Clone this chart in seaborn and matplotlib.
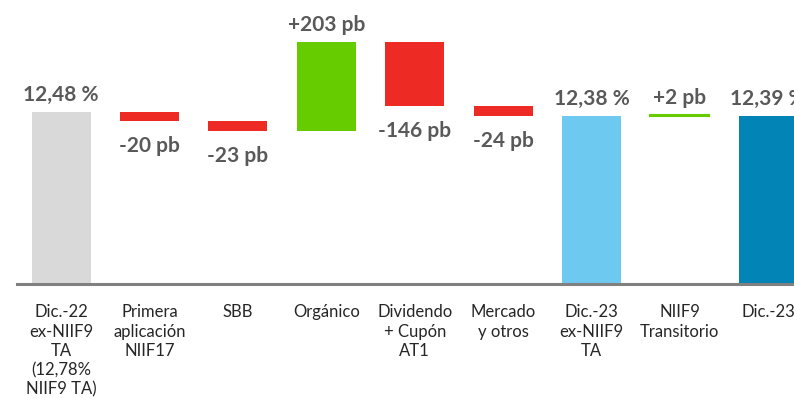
import matplotlib
matplotlib.use("Agg")
import matplotlib.pyplot as plt
import numpy as np
import pandas as pd
import seaborn as sns

# Capital ratio bridge: Dic.-22 -> Dic.-23 (values in %, deltas in pb)
categories = [
    "Dic.-22\nex-NIIF9\nTA\n(12,78%\nNIIF9 TA)",
    "Primera\naplicación\nNIIF17",
    "SBB",
    "Orgánico",
    "Dividendo\n+ Cupón\nAT1",
    "Mercado\ny otros",
    "Dic.-23\nex-NIIF9\nTA",
    "NIIF9\nTransitorio",
    "Dic.-23",
]
kinds = ["total", "delta", "delta", "delta", "delta", "delta", "total", "delta", "total"]
values = [12.48, -20, -23, 203, -146, -24, 12.38, 2, 12.39]  # totals in %, deltas in pb
bar_colors = ["#D9D9D9", "#EE2A24", "#EE2A24", "#66CC00", "#EE2A24",
              "#EE2A24", "#6EC9F1", "#66CC00", "#0284B6"]

# Running level for each floating bar
heights, bottoms = [], []
level = 0.0
for kind, v in zip(kinds, values):
    if kind == "total":
        heights.append(v)
        bottoms.append(0.0)
        level = v
    else:
        d = v / 100.0
        heights.append(d)
        bottoms.append(level)
        level += d

df = pd.DataFrame({"cat": categories, "height": heights})

sns.set_theme(style="white")
plt.rcParams["font.family"] = ["Lato", "DejaVu Sans"]

fig = plt.figure(figsize=(7.94, 3.98), dpi=100)
ax = fig.add_axes([17 / 794, 0.2857, 1 - 17 / 794, 1 - 0.2857])

sns.barplot(data=df, x="cat", y="height", order=categories, width=0.667,
            bottom=np.array(bottoms), errorbar=None, ax=ax, color=bar_colors[0],
            saturation=1, linewidth=0, edgecolor="none")

for patch, col, kind, v in zip(ax.patches, bar_colors, kinds, values):
    patch.set_facecolor(col)
    if kind == "delta" and abs(v) < 5:
        # very small change drawn as a thin stroke
        patch.set_edgecolor(col)
        patch.set_linewidth(1.5)

ax.set_xlim(-0.5, 8.292)
ax.set_ylim(8.535, 15.04)

label_color = "#595959"
for i, (kind, v, h, b) in enumerate(zip(kinds, values, heights, bottoms)):
    if kind == "total":
        txt = f"{v:.2f}".replace(".", ",") + " %"
        top = b + h
        ax.annotate(txt, (i, top), xytext=(0, 8), textcoords="offset points",
                    ha="center", va="baseline", fontsize=15, fontweight="bold",
                    color=label_color, annotation_clip=False)
    else:
        txt = (f"+{v}" if v > 0 else f"-{abs(v)}") + " pb"
        if v > 0:
            ax.annotate(txt, (i, b + h), xytext=(0, 8), textcoords="offset points",
                        ha="center", va="baseline", fontsize=15, fontweight="bold",
                        color=label_color, annotation_clip=False)
        else:
            ax.annotate(txt, (i, b + h), xytext=(0, -22.3), textcoords="offset points",
                        ha="center", va="baseline", fontsize=15, fontweight="bold",
                        color=label_color, annotation_clip=False)

ax.set_xlabel("")
ax.set_ylabel("")
ax.set_yticks([])
ax.tick_params(axis="x", length=0, pad=14.5, labelsize=12, labelcolor="#262626")
for lbl in ax.get_xticklabels():
    lbl.set_linespacing(1.25)
    lbl.set_va("top")
    lbl.set_ha("center")

for side in ["top", "right", "left"]:
    ax.spines[side].set_visible(False)
ax.spines["bottom"].set_color("#808080")
ax.spines["bottom"].set_linewidth(2.2)

fig.savefig("out.png", dpi=100)
